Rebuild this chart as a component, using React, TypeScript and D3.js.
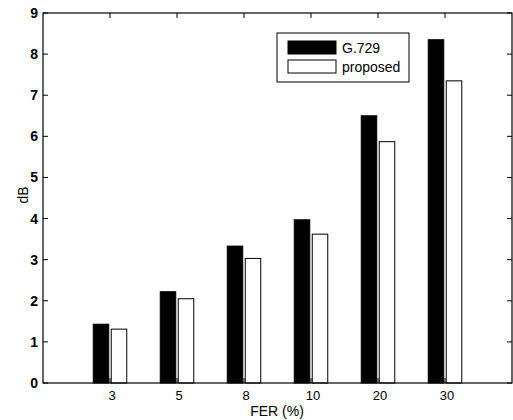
import * as d3 from 'd3'
import { useEffect, useRef } from 'react';

const categories = [ "3", "5", "8", "10", "20", "30" ];
const g729 = [ 1.43, 2.22, 3.33, 3.97, 6.5, 8.35 ];
const proposed = [ 1.31, 2.05, 3.03, 3.62, 5.87, 7.35 ];
const yTicks = [ 0, 1, 2, 3, 4, 5, 6, 7, 8, 9 ];

function makeChart( svgEl: SVGSVGElement ) {
    const left = 43, right = 512, top = 13, bottom = 383;
    const font = "'Liberation Sans', Arial, sans-serif";
    const svg = d3.select( svgEl );
    svg.selectAll( "*" ).remove();

    // xlim [0, 7] like the matlab plot, categories at 1..6
    const scX = d3.scaleLinear().domain( [0, 7] ).range( [left, right] );
    const scY = d3.scaleLinear().domain( [0, 9] ).range( [bottom, top] );

    const barW = 15.5, off = 9;

    svg.append( "g" ).selectAll( "rect" ).data( g729 ).enter().append( "rect" )
        .attr( "x", (d, i) => scX( i + 1 ) - off - barW / 2 )
        .attr( "y", d => scY( d ) )
        .attr( "width", barW )
        .attr( "height", d => scY( 0 ) - scY( d ) )
        .attr( "fill", "black" ).attr( "stroke", "black" );

    svg.append( "g" ).selectAll( "rect" ).data( proposed ).enter().append( "rect" )
        .attr( "x", (d, i) => scX( i + 1 ) + off - barW / 2 )
        .attr( "y", d => scY( d ) )
        .attr( "width", barW )
        .attr( "height", d => scY( 0 ) - scY( d ) )
        .attr( "fill", "white" ).attr( "stroke", "black" );

    // box
    svg.append( "rect" )
        .attr( "x", left ).attr( "y", top )
        .attr( "width", right - left ).attr( "height", bottom - top )
        .attr( "fill", "none" ).attr( "stroke", "black" ).attr( "stroke-width", 1.2 );

    const tl = 5;
    // y ticks, inward on both sides
    const yg = svg.append( "g" );
    yg.selectAll( "line.l" ).data( yTicks ).enter().append( "line" )
        .attr( "x1", left ).attr( "x2", left + tl )
        .attr( "y1", d => scY( d ) ).attr( "y2", d => scY( d ) )
        .attr( "stroke", "black" );
    yg.selectAll( "line.r" ).data( yTicks ).enter().append( "line" )
        .attr( "x1", right ).attr( "x2", right - tl )
        .attr( "y1", d => scY( d ) ).attr( "y2", d => scY( d ) )
        .attr( "stroke", "black" );
    yg.selectAll( "text" ).data( yTicks ).enter().append( "text" )
        .attr( "x", left - 5 ).attr( "y", d => scY( d ) + 5 )
        .attr( "text-anchor", "end" )
        .attr( "font-family", font ).attr( "font-size", 14 ).attr( "font-weight", "bold" )
        .text( d => d );

    // x ticks
    const xg = svg.append( "g" );
    xg.selectAll( "line.b" ).data( categories ).enter().append( "line" )
        .attr( "x1", (d, i) => scX( i + 1 ) ).attr( "x2", (d, i) => scX( i + 1 ) )
        .attr( "y1", bottom ).attr( "y2", bottom - tl )
        .attr( "stroke", "black" );
    xg.selectAll( "line.t" ).data( categories ).enter().append( "line" )
        .attr( "x1", (d, i) => scX( i + 1 ) ).attr( "x2", (d, i) => scX( i + 1 ) )
        .attr( "y1", top ).attr( "y2", top + tl )
        .attr( "stroke", "black" );
    xg.selectAll( "text" ).data( categories ).enter().append( "text" )
        .attr( "x", (d, i) => scX( i + 1 ) + 2 ).attr( "y", 400 )
        .attr( "text-anchor", "middle" )
        .attr( "font-family", font ).attr( "font-size", 13 )
        .text( d => d );

    // axis labels
    svg.append( "text" )
        .attr( "x", 277 ).attr( "y", 416 )
        .attr( "text-anchor", "middle" )
        .attr( "font-family", font ).attr( "font-size", 14 )
        .text( "FER (%)" );
    svg.append( "text" )
        .attr( "transform", "translate(28,195) rotate(-90)" )
        .attr( "text-anchor", "middle" )
        .attr( "font-family", font ).attr( "font-size", 14 )
        .text( "dB" );

    // legend
    const lg = svg.append( "g" );
    lg.append( "rect" )
        .attr( "x", 277 ).attr( "y", 33 ).attr( "width", 132 ).attr( "height", 49 )
        .attr( "fill", "white" ).attr( "stroke", "black" );
    lg.append( "rect" )
        .attr( "x", 288 ).attr( "y", 41 ).attr( "width", 48 ).attr( "height", 13 )
        .attr( "fill", "black" ).attr( "stroke", "black" );
    lg.append( "rect" )
        .attr( "x", 288 ).attr( "y", 60 ).attr( "width", 48 ).attr( "height", 13 )
        .attr( "fill", "white" ).attr( "stroke", "black" );
    lg.append( "text" )
        .attr( "x", 342 ).attr( "y", 53 )
        .attr( "font-family", font ).attr( "font-size", 14 )
        .text( "G.729" );
    lg.append( "text" )
        .attr( "x", 342 ).attr( "y", 72 )
        .attr( "font-family", font ).attr( "font-size", 14 )
        .text( "proposed" );
}

function App() {
    const ref = useRef<SVGSVGElement>( null );
    useEffect( () => {
        if ( ref.current ) makeChart( ref.current );
    } );

    return (
        <svg ref={ref} width="513" height="420"
             style={{ position: "absolute", left: 0, top: 0, background: "white" }}>
        </svg>
    );
}

export default App;
